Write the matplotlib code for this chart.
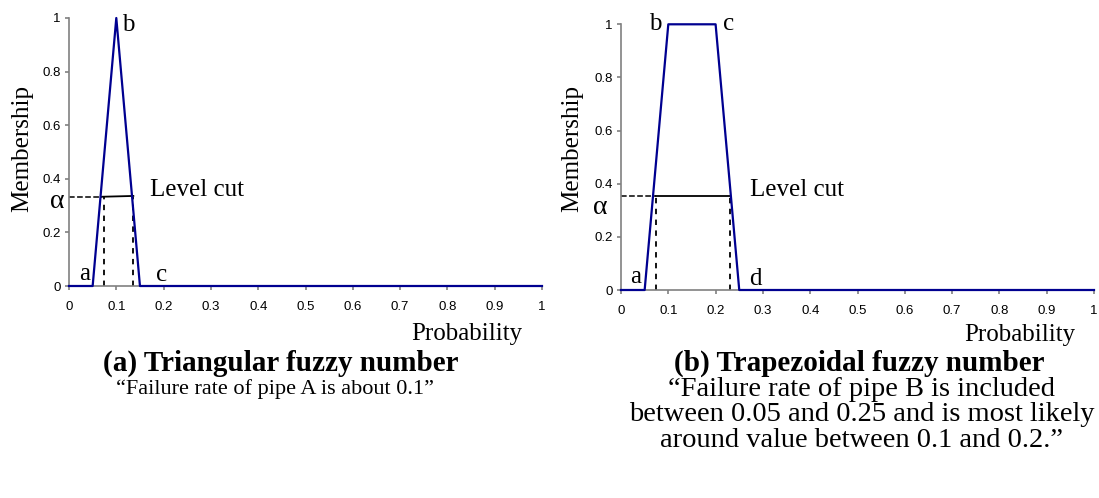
import numpy as np
import matplotlib.pyplot as plt

plt.rcParams['font.family'] = 'Liberation Sans'

# membership functions
tri_x = [0, 0.05, 0.1, 0.15, 1]
tri_y = [0, 0, 1, 0, 0]
trap_x = [0, 0.05, 0.1, 0.2, 0.25, 1]
trap_y = [0, 0, 1, 1, 0, 0]

# level cuts (alpha, cut line ends, dashed drop lines)
tri_alpha = 0.333
tri_cut = [0.069, 0.136]
tri_drop = [0.075, 0.136]
trap_alpha = 0.352
trap_cut = [0.074, 0.231]
trap_drop = [0.074, 0.231]

ticks_x = [0, 0.1, 0.2, 0.3, 0.4, 0.5, 0.6, 0.7, 0.8, 0.9, 1]
ticks_y = [0, 0.2, 0.4, 0.6, 0.8, 1]

W, H = 1099, 498
fig = plt.figure(figsize=(W / 100, H / 100), dpi=100)

def px(x, y):
    return x / W, 1 - y / H

serif = 'Liberation Serif'
navy = '#000090'
gray = '#808080'

def setup(ax):
    ax.set_xlim(0, 1)
    ax.set_ylim(0, 1)
    for s in ['top', 'right']:
        ax.spines[s].set_visible(False)
    for s in ['left', 'bottom']:
        ax.spines[s].set_color(gray)
        ax.spines[s].set_linewidth(1.2)
    ax.set_xticks(ticks_x)
    ax.set_xticklabels(['0', '0.1', '0.2', '0.3', '0.4', '0.5', '0.6', '0.7', '0.8', '0.9', '1'])
    ax.set_yticks(ticks_y)
    ax.set_yticklabels(['0', '0.2', '0.4', '0.6', '0.8', '1'])
    ax.tick_params(colors=gray, labelcolor='black', labelsize=9.5, length=3, width=1.2)
    ax.tick_params(axis='x', pad=8)
    ax.tick_params(axis='y', pad=3)
    ax.patch.set_alpha(0)

# (a) triangular
ax1 = fig.add_axes([69 / W, 1 - 286 / H, 473 / W, 268 / H])
setup(ax1)
ax1.plot(tri_x, tri_y, color=navy, lw=1.6, clip_on=False, zorder=3)
ax1.plot([0, tri_cut[0]], [tri_alpha, tri_alpha], 'k--', lw=1.1)
ax1.plot(tri_cut, [tri_alpha, tri_alpha + 0.003], 'k-', lw=1.3)
for xd in tri_drop:
    ax1.plot([xd, xd], [0, tri_alpha], 'k--', lw=1.3, dashes=(3, 3))
ax1.text(0.125, 0.975, 'b', fontsize=18, family=serif, va='center', ha='center')
ax1.text(0.034, 0.045, 'a', fontsize=18, family=serif, va='center', ha='center')
ax1.text(0.195, 0.04, 'c', fontsize=18, family=serif, va='center', ha='center')
ax1.text(0.171, 0.36, 'Level cut', fontsize=18, family=serif, va='center', ha='left')
ax1.text(-0.025, 0.315, 'α', fontsize=20, family=serif, va='center', ha='center')
ax1.text(0.958, -0.179, 'Probability', fontsize=18, family=serif, va='center', ha='right',
         transform=ax1.get_xaxis_transform())

# (b) trapezoidal
ax2 = fig.add_axes([621 / W, 1 - 290 / H, 473 / W, 265.7 / H])
setup(ax2)
ax2.plot(trap_x, trap_y, color=navy, lw=1.6, clip_on=False, zorder=3)
ax2.plot([0, trap_cut[0]], [trap_alpha, trap_alpha], 'k--', lw=1.1)
ax2.plot(trap_cut, [trap_alpha, trap_alpha], 'k-', lw=1.3)
for xd in trap_drop:
    ax2.plot([xd, xd], [0, trap_alpha], 'k--', lw=1.3, dashes=(3, 3))
ax2.text(0.072, 1.0, 'b', fontsize=18, family=serif, va='center', ha='center')
ax2.text(0.228, 1.0, 'c', fontsize=18, family=serif, va='center', ha='center')
ax2.text(0.03, 0.05, 'a', fontsize=18, family=serif, va='center', ha='center')
ax2.text(0.285, 0.04, 'd', fontsize=18, family=serif, va='center', ha='center')
ax2.text(0.273, 0.376, 'Level cut', fontsize=18, family=serif, va='center', ha='left')
ax2.text(-0.044, 0.31, 'α', fontsize=20, family=serif, va='center', ha='center')
ax2.text(0.96, -0.169, 'Probability', fontsize=18, family=serif, va='center', ha='right',
         transform=ax2.get_xaxis_transform())

# y labels
fig.text(*px(22, 149), 'Membership', rotation=90, fontsize=18, family=serif, va='center', ha='center')
fig.text(*px(572, 149), 'Membership', rotation=90, fontsize=18, family=serif, va='center', ha='center')

# captions
fig.text(*px(281, 363), '(a) Triangular fuzzy number', fontsize=21, family=serif,
         weight='bold', va='center', ha='center')
fig.text(*px(275, 389), '\u201cFailure rate of pipe A is about 0.1\u201d', fontsize=16,
         family=serif, va='center', ha='center')
fig.text(*px(859, 363), '(b) Trapezoidal fuzzy number', fontsize=21, family=serif,
         weight='bold', va='center', ha='center')
fig.text(*px(862, 389), '\u201cFailure rate of pipe B is included', fontsize=20.5,
         family=serif, va='center', ha='center')
fig.text(*px(862, 414), 'between 0.05 and 0.25 and is most likely', fontsize=20.5,
         family=serif, va='center', ha='center')
fig.text(*px(862, 440), 'around value between 0.1 and 0.2.\u201d', fontsize=20.5,
         family=serif, va='center', ha='center')

fig.savefig('out.png', dpi=100)
